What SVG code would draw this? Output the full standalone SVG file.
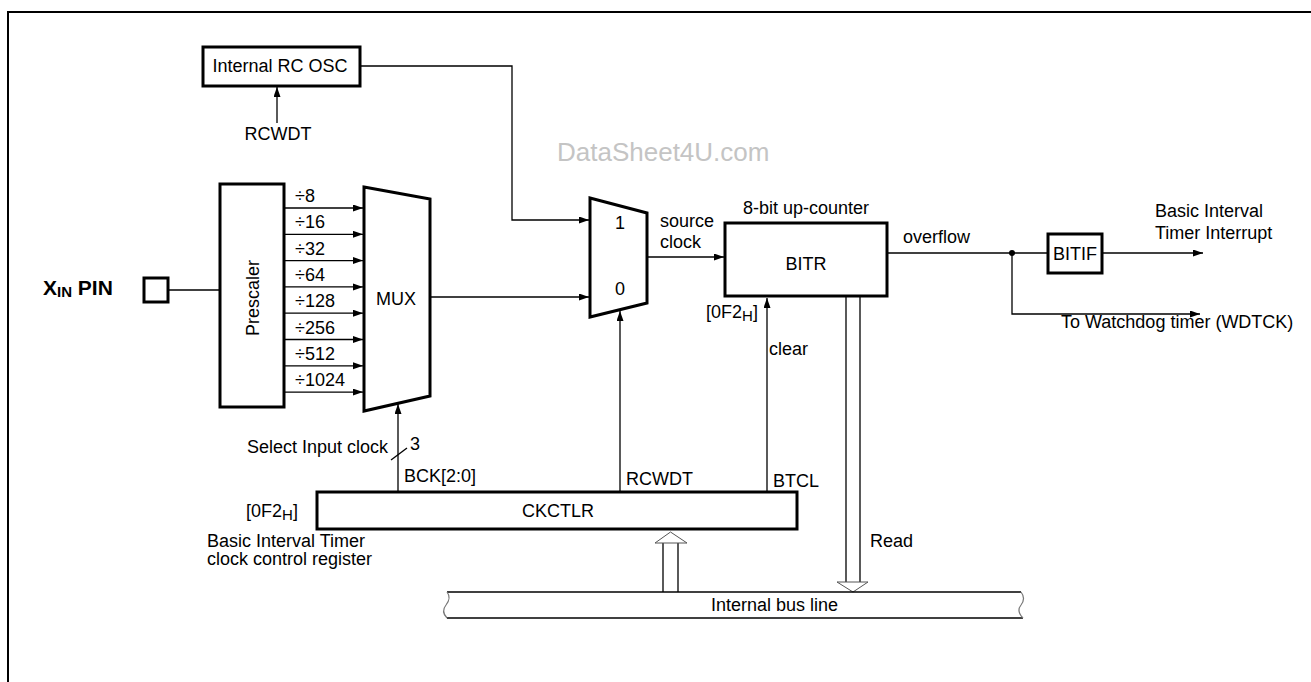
<svg xmlns="http://www.w3.org/2000/svg" width="1311" height="682" viewBox="0 0 1311 682">
<style>
text{font-family:"Liberation Sans",Arial,sans-serif;font-size:18px;fill:#000}
.box{fill:#fff;stroke:#000;stroke-width:3}
.ln{fill:none;stroke:#000;stroke-width:1.3}
.mid{text-anchor:middle}
.wm{fill:#c4c4c4;font-size:26px}
.hollow{fill:#fff;stroke:#555;stroke-width:1}
.wave{fill:none;stroke:#777;stroke-width:1.2}
</style>
<defs>
<marker id="ah" markerUnits="userSpaceOnUse" markerWidth="11" markerHeight="8" refX="10" refY="3.5" orient="auto">
<path d="M0,0 L10,3.5 L0,7 z" fill="#000"/>
</marker>
</defs>
<rect x="0" y="0" width="1311" height="682" fill="#fff"/>
<rect x="8" y="12" width="1400" height="800" fill="none" stroke="#000" stroke-width="2"/>
<text class="wm" x="557" y="161">DataSheet4U.com</text>

<g id="connectors">
<line class="ln" x1="277" y1="123" x2="277" y2="87" marker-end="url(#ah)"/>
<polyline class="ln" points="360,66 512,66 512,220 589,220" marker-end="url(#ah)"/>
<line class="ln" x1="168" y1="290" x2="220" y2="290"/>
<line class="ln" x1="284" y1="208" x2="363" y2="208" marker-end="url(#ah)"/>
<line class="ln" x1="284" y1="234.3" x2="363" y2="234.3" marker-end="url(#ah)"/>
<line class="ln" x1="284" y1="260.6" x2="363" y2="260.6" marker-end="url(#ah)"/>
<line class="ln" x1="284" y1="286.9" x2="363" y2="286.9" marker-end="url(#ah)"/>
<line class="ln" x1="284" y1="313.2" x2="363" y2="313.2" marker-end="url(#ah)"/>
<line class="ln" x1="284" y1="339.5" x2="363" y2="339.5" marker-end="url(#ah)"/>
<line class="ln" x1="284" y1="365.8" x2="363" y2="365.8" marker-end="url(#ah)"/>
<line class="ln" x1="284" y1="392.1" x2="363" y2="392.1" marker-end="url(#ah)"/>
<line class="ln" x1="430" y1="297" x2="589" y2="297" marker-end="url(#ah)"/>
<line class="ln" x1="648" y1="257" x2="724" y2="257" marker-end="url(#ah)"/>
<line class="ln" x1="398" y1="492" x2="398" y2="404" marker-end="url(#ah)"/>
<line class="ln" x1="391" y1="460" x2="407" y2="448"/>
<line class="ln" x1="620" y1="492" x2="620" y2="311" marker-end="url(#ah)"/>
<line class="ln" x1="767" y1="492" x2="767" y2="298" marker-end="url(#ah)"/>
<line class="ln" x1="887" y1="253" x2="1048" y2="253"/>
<line class="ln" x1="1102" y1="253" x2="1203" y2="253" marker-end="url(#ah)"/>
<polyline class="ln" points="1012,253 1012,314 1200,314" marker-end="url(#ah)"/>
<circle cx="1012" cy="253" r="3" fill="#000"/>
<line class="ln" x1="846" y1="297" x2="846" y2="582"/>
<line class="ln" x1="860" y1="297" x2="860" y2="582"/>
<polygon class="hollow" points="837,582 853,592 868,582"/>
<line class="ln" x1="663" y1="592" x2="663" y2="543"/>
<line class="ln" x1="678" y1="592" x2="678" y2="543"/>
<polygon class="hollow" points="655,543 670.5,532 687,543"/>
</g>

<g id="rcosc">
<rect class="box" x="203" y="47" width="157" height="39"/>
<text class="mid" x="280" y="72">Internal RC OSC</text>
<text class="mid" x="278" y="140">RCWDT</text>
</g>

<g id="xin">
<rect class="box" x="144" y="278" width="24" height="24"/>
<text x="43" y="295" style="font-weight:bold;font-size:21px">X<tspan style="font-size:15px" dy="2">IN</tspan><tspan dy="-2"> PIN</tspan></text>
</g>

<g id="prescaler">
<rect class="box" x="220" y="184" width="64" height="223"/>
<text class="mid" transform="translate(259,298) rotate(-90)" x="0" y="0">Prescaler</text>
<text x="295" y="202">÷8</text>
<text x="295" y="228.3">÷16</text>
<text x="295" y="254.6">÷32</text>
<text x="295" y="280.9">÷64</text>
<text x="295" y="307.2">÷128</text>
<text x="295" y="333.5">÷256</text>
<text x="295" y="359.8">÷512</text>
<text x="295" y="386.1">÷1024</text>
</g>

<g id="mux">
<polygon class="box" points="364,187 430,199 430,396 364,411"/>
<text class="mid" x="396" y="305">MUX</text>
</g>

<g id="mux2">
<polygon class="box" points="590,198 647,213 647,303 590,317"/>
<text class="mid" x="620" y="229">1</text>
<text class="mid" x="620" y="295">0</text>
<text x="660" y="227">source</text>
<text x="660" y="248">clock</text>
</g>

<g id="bitr">
<rect class="box" x="725" y="223" width="162" height="73"/>
<text class="mid" x="806" y="270">BITR</text>
<text class="mid" x="806" y="214">8-bit up-counter</text>
<text x="706" y="318">[0F2<tspan style="font-size:15px" dy="3">H</tspan><tspan dy="-3">]</tspan></text>
<text x="769" y="355">clear</text>
<text x="870" y="547">Read</text>
<text x="903" y="243">overflow</text>
</g>

<g id="bitif">
<rect class="box" x="1048" y="234" width="54" height="39"/>
<text class="mid" x="1075" y="260">BITIF</text>
<text x="1155" y="217">Basic Interval</text>
<text x="1155" y="239">Timer Interrupt</text>
<text x="1061" y="328">To Watchdog timer (WDTCK)</text>
</g>

<g id="ckctlr">
<rect class="box" x="317" y="492" width="480" height="37"/>
<text class="mid" x="558" y="517">CKCTLR</text>
<text x="246" y="517">[0F2<tspan style="font-size:15px" dy="3">H</tspan><tspan dy="-3">]</tspan></text>
<text x="207" y="547">Basic Interval Timer</text>
<text x="207" y="565">clock control register</text>
<text x="247" y="453">Select Input clock</text>
<text x="410" y="450">3</text>
<text x="404" y="482">BCK[2:0]</text>
<text x="626" y="485">RCWDT</text>
<text x="773" y="487">BTCL</text>
</g>

<g id="bus">
<line class="ln" x1="447" y1="592" x2="1021" y2="592"/>
<line class="ln" x1="447" y1="618" x2="1023" y2="618"/>
<path class="wave" d="M447,592 C451,597 449,601 446,605 C442,610 443,614 447,618"/>
<path class="wave" d="M1021,592 C1025,597 1024,601 1021,605 C1017,610 1019,614 1023,618"/>
<text x="711" y="611">Internal bus line</text>
</g>
</svg>
